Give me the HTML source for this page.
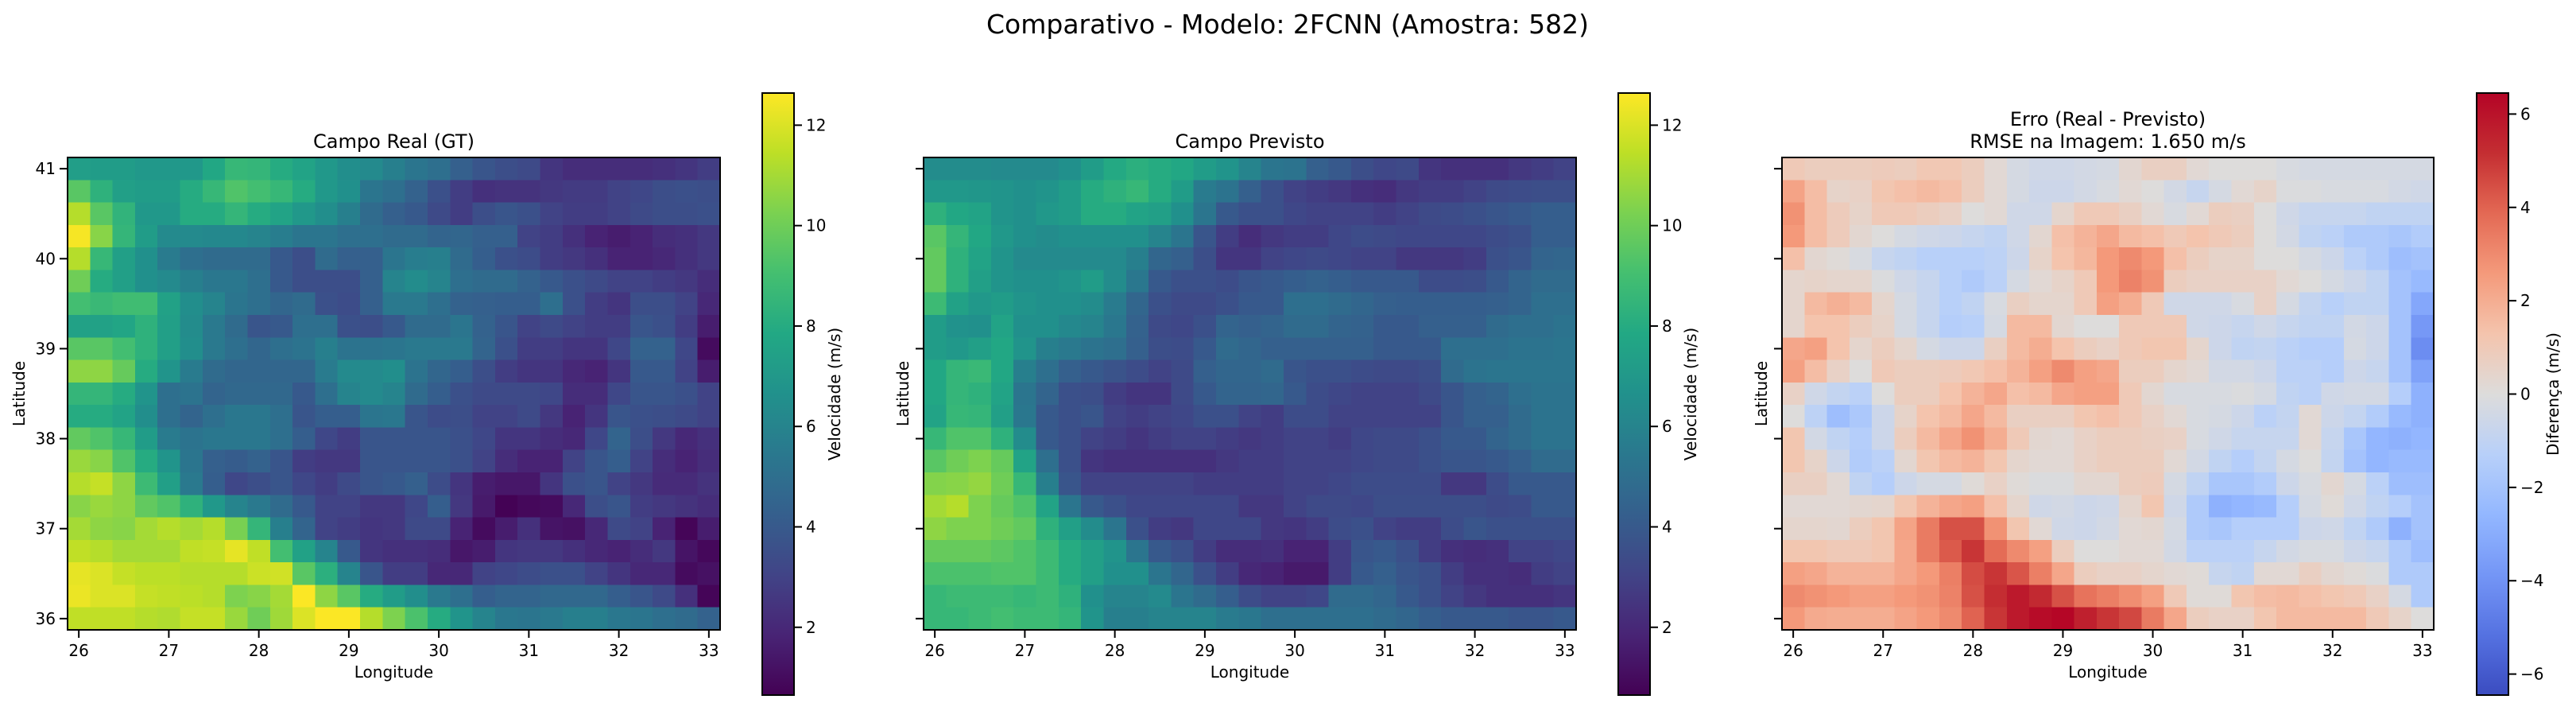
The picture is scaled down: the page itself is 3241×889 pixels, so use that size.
<!DOCTYPE html>
<html><head><meta charset="utf-8">
<style>
html,body{margin:0;padding:0;background:#fff;}
svg{display:block;font-family:"DejaVu Sans","Liberation Sans",sans-serif;}
</style></head>
<body>
<svg id="fig" width="3241" height="889" viewBox="0 0 3241 889" xmlns="http://www.w3.org/2000/svg">
<rect width="3241" height="889" fill="#fff"/>
<text x="1620" y="42" font-size="33" text-anchor="middle" fill="#000">Comparativo - Modelo: 2FCNN (Amostra: 582)</text>
<defs id="defs"></defs>
<g id="plots"></g>
</svg>
<script>
// grid: 29 columns (lon 25.875..33.125), 21 rows top lat 41.125 -> bottom 35.875
const lonTicks = [26,27,28,29,30,31,32,33];
const latTicks = [36,37,38,39,40,41];
const speedTicks = [2,4,6,8,10,12];
const diffTicks = [-6,-4,-2,0,2,4,6];
const speedRange = [0.65, 12.64];
const diffRange = [-6.45, 6.45];

const realRows = [
"7.3 7.2 7.2 7 7 7 7.8 8.6 8.5 8 7.6 7 6.5 6.3 5.8 5.3 5 4.3 3.8 3.5 3.3 2.5 2.2 2.2 2.2 2.2 2.3 2.5 2.8",
"9.5 8.3 7.4 7.2 7.2 8 8.6 9.3 9 8.6 8 7 6.6 5.3 5 4.4 3.6 2.8 2.3 2.4 2.4 2.6 2.7 2.7 3 3.2 3.5 3.6 3.5",
"11.3 9.5 8.4 7 7 8 8 8.5 8 7.6 7 6.5 5.8 4.8 4.3 4 3.3 2.8 3.5 3.8 3.6 3 2.8 2.8 3 3.3 3.5 3.5 3.6",
"12.5 10.5 8.5 7.2 6.3 6.3 6.2 6.2 6 5.7 5.3 5.3 5 5 4.8 4.8 4.5 4.6 4.3 4.3 3 2.8 2.3 1.8 1.6 1.8 2.2 2.3 2.6",
"11.3 8.6 7.4 6.6 5.6 5 4.8 4.8 4.8 4 3.5 4.8 4.3 4.3 5.3 5.7 5.8 4.8 4.2 3.6 3.4 2.8 2.6 2.3 1.8 1.8 2 2.3 2.6",
"10 8 7.4 6.6 6.3 5.8 5.4 5.4 5 4 3.5 3.5 3.5 4.3 6 6.4 6 5 4.8 4.8 4.4 4 3.6 3.3 3 3 2.8 2.6 2.2",
"9 8.7 8.9 8.9 7.5 6.5 6 5.3 5 4.6 4.8 3.6 3.4 4.3 5.5 5.5 5 4.4 4.3 4.2 4.2 5 3.6 2.8 2.5 3.5 3.5 3 2",
"7.5 7.5 7.7 8.3 7.4 6.4 5.5 4.8 3.8 4 5 5 3.6 3.5 4 4.8 4.8 5.3 4.4 3.8 3 3.3 3 2.8 2.8 3.8 3.6 2.8 1.6",
"9.5 9.5 9 8.3 7.4 6.5 5.5 5 4.6 5 5.2 5.8 5.2 5.2 5.3 5.5 5.5 5.5 4.5 3.6 2.8 2.8 2.5 2.5 3.2 4.4 4.4 3.2 1",
"10.6 10.6 9.8 8 6.8 5.6 4.8 4.6 4.6 4.6 4.6 5.6 6.3 6.3 6.5 5.2 4.6 4.2 3.5 2.8 2.5 2.5 2 1.8 2.5 4 4 3 1.6",
"8.5 8.5 8 6.8 5 5.2 4.5 4.7 4.7 4.7 4 5 6 6.3 6 4.8 4.2 3.6 3.3 3.3 3.3 3.2 2.2 2.2 3.2 3.8 3.8 3.6 3",
"8 8 7.6 6.5 5 4.5 5 5.4 5.4 5 3.8 4.2 4.2 5.3 5.4 3.8 3.4 3.5 3 3 3.3 2.6 1.8 2.5 3.8 3.6 3.5 3.3 3",
"9.7 9.3 8.6 7.2 5.6 5.2 5.4 5.4 5.4 5 4.2 3.2 2.8 3.8 3.8 3.8 3.8 3.6 3.2 2.5 2.5 2.2 2 3.2 4.5 3.5 2.6 2 2.3",
"10.8 10.5 9.3 8 6.8 5.3 4.3 4.1 4.4 3.8 2.8 2.6 2.6 3.8 3.8 3.8 3.8 3.6 3 2.2 1.8 1.8 3 3.8 4.2 3 2.2 1.8 2.2",
"11.3 11.6 10.6 8.8 7.4 5.5 4.2 3.2 3.5 3.8 3.2 2.8 3.3 3.8 4 4.3 3.4 2.5 1.6 1.4 1.4 2.5 3.6 3.8 3 2.6 2.1 2.1 2.4",
"10.5 10.8 10.6 9.7 9.3 8.3 7 6 5.5 4.8 4 3 3 2.6 2.6 3.2 4.2 2.6 1.5 0.7 0.9 1 2 3.5 3.8 2.8 2.6 2.4 2.2",
"11 10.6 10.5 11 11.3 11 11.3 10.2 8.5 5.8 4.5 3 2.8 2.5 2.6 3.3 3.3 1.8 1 1.6 2.3 1.3 1.2 2 3.3 3 1.8 0.8 1.6",
"11.5 11.3 11 11 11 11.5 11.6 12.2 11.5 9 7.5 6 4 2.5 2.3 2.3 2.2 1.4 1.6 2.5 2.6 2.6 2.3 2 1.8 2.2 2.6 1.3 0.9",
"12.2 12 11.6 11.4 11.4 11.3 11.3 11.3 11.7 11.8 9.5 8.2 6 3.8 2.8 2.8 2 2 3 3.2 3.4 3.6 3.6 3 2.5 2 2 1 1.2",
"12.3 12 12 11.6 11.5 11.4 11.3 10.3 10.5 11 12.6 10.6 9.5 8 7.2 6.5 5.5 5 4.2 4.5 4.5 4.7 4.7 4.7 4.2 3.8 3.3 2.3 0.8",
"11.5 11.5 11.5 11.3 11.2 11.6 11.6 10.8 10 10.9 12 12.6 12.6 11.3 10.3 9.2 8 6.8 6 5.4 5.3 5.5 5.8 5.8 5.4 5.3 5 4.8 4.4"
];
const predRows = [
"6.4 6.4 6.4 6.3 6.3 6.3 6.6 7.2 7.9 8.2 8 7.8 7.2 6.8 6 5.3 5.2 4.3 4 3.5 3.2 3.3 2.5 2.3 2.3 2.3 2.6 2.8 3",
"7 7 6.9 6.8 6.6 6.8 7.2 8 8.3 8.6 8 7.2 5.6 5.2 4.3 3.6 3 2.8 2.6 2.3 2.2 2.6 2.8 2.8 3 3.3 3.4 3.5 3.5",
"8.3 7.8 7.6 6.8 6.6 7 7.2 8 8 7.6 7.4 6.6 5.3 4 3.6 3.6 3.2 3 3 3 2.8 3 3.3 3.4 3.6 3.8 4 4.2 4.2",
"9.5 8.5 7.8 7 6.6 6.4 6.6 6.6 6.6 6.6 6 5.3 3.8 2.8 2.2 2.6 2.8 2.8 3.2 3.4 3.3 3.2 3.2 3.2 3.2 3.4 3.6 4.2 4.2",
"9.7 8.3 7.6 6.8 6.3 6.3 6.3 6.3 6.3 5.8 4.6 4.3 3.5 2.5 2.5 3 3.2 3.3 3.2 3 3 2.6 2.6 2.6 2.8 3.6 3.8 4.5 4.6",
"9.7 8.3 7.4 6.8 6.6 6.6 6.8 7.2 6.4 5.4 4 3.6 3.6 3.4 3.8 4 4.2 4.4 4.2 4 4 4 3.4 3.4 3.5 4 4.5 4.8 4.8",
"8.8 7.5 7 7.2 6.8 6.6 6.6 6.4 5.6 4.6 3.6 3.3 3.3 3.6 4 4 5 5 4.8 4.6 4.3 4.2 4.2 4.2 4.2 4.3 4.5 5 5",
"7.2 6.7 6.6 7.6 6.6 6.6 6.2 6 5.4 4.4 3.3 3.2 3.6 4.5 4.3 4.5 4.8 4.8 4.5 4.4 4 4 4.3 4.3 4.3 4.8 5 5 5.2",
"7.2 7 7.4 7.8 6.8 5.8 5.5 5.2 5 4.3 3.5 3.4 4 4.8 4.6 4.3 4.3 4.3 4.3 4.3 4 4 4 5 5 5 5.2 5.2 5.3",
"7.8 8.5 8.7 7.8 5.8 5 4.3 4 3.7 3.4 3 3.3 4.3 4.6 4.6 4.8 3.8 3.6 3.6 3.4 3.3 3.3 3.5 4.8 5.2 5.3 5.3 5.3 5.3",
"7.8 8.5 8.3 7.6 5.3 4.5 3.6 3.5 2.8 2.5 2.5 3.3 4 4.5 4.5 4.6 4 3.4 3.2 3 3 3 3.3 3.8 4.3 4.5 5 5.2 5.2",
"7.6 8.6 8.5 7.4 5.4 4 3.6 3.8 3 2.8 3 3.2 3.6 3.6 3 2.8 3.4 3.4 3 3 3 3 3 3.8 4.3 4.3 4.8 5.2 5.2",
"8.6 9.3 9.3 8.3 6.4 4 3.6 3 2.8 2.5 2.8 3 3 2.8 2.6 2.8 3 3 2.8 3.2 3.3 3.3 3.6 4 4 4.5 4.8 5.2 5.2",
"9.5 10 10.3 9.8 7.6 5 3.6 2.5 2.3 2.3 2.3 2.3 2.3 2.6 2.8 2.8 3 3 3 3.2 3.3 3.3 3.6 3.8 3.8 4 4.3 4.8 4.8",
"10.4 10.5 10.7 10 8.6 5.8 3.8 3 3 3 3 3 2.8 2.8 2.8 2.8 3 3 3.2 3.4 3.4 3.4 3.4 2.6 2.6 3.4 4 4 4",
"11 11.3 10.3 9.8 9.3 7.6 5.3 4 3.6 3.2 3.2 3.2 3.2 3.2 2.6 2.6 3 3.3 3.3 3.2 3.5 3.5 3.5 3.5 3.5 3.3 3.4 4 4",
"10.6 10.3 10.3 10 9.7 8.3 7.4 6.4 5.3 3.6 2.8 2.6 3.2 3.2 3.2 2.6 2.5 2.8 3.4 3.6 3 2.8 2.8 3.4 3.8 3.6 3.6 3.6 3.6",
"9.8 9.8 9.8 9.6 9.3 8.8 8 7.4 6.8 5.3 4 3.6 2.8 2.2 2.2 2.3 1.8 1.8 2.8 3.8 4 3.6 2.8 2.3 2.2 2.3 3 3 3.2",
"9.2 9.2 9.2 9.3 9.3 8.8 8 7.4 6.6 6.6 5.3 4.6 3.6 2.8 2 1.8 1.5 1.5 2.8 4 4.3 3.8 3.6 2.8 2.3 2.3 2.2 2.8 3",
"8.6 8.8 8.8 8.8 8.6 8.8 8.3 6.6 6 6 6.3 5.3 4.8 4.2 3.4 3 3 3.2 4.8 4.8 4.6 4 3.6 3 2.6 2.3 2.3 2.3 2.5",
"8.6 8.6 8.8 9 8.8 8.8 8.5 6.8 5.8 5.8 6 6 6 5.6 5.4 5 5 5 5 5 4.8 4.6 4.2 4 4 4 3.8 3.8 4"
];
const errRows = [
"1 .8 .8 .8 .9 .8 1.1 1.1 .8 .2 -.3 -.5 -.5 -.4 -.3 .3 .7 .7 .2 0 0 0 -.2 -.3 -.3 -.3 -.3 -.3 -.3",
"2.3 1.5 .5 .6 1.2 1.4 1.6 1.4 .8 .2 -.3 -.6 -.6 -.4 -.2 .2 0 -.4 -.8 -.3 .2 .5 -.1 -.1 -.2 -.2 -.2 -.4 -.5",
"2.8 1.5 .9 .5 1 1 .8 .6 0 .2 -.5 -.5 .4 1 1 .7 .2 -.2 .2 .8 .7 0 -.5 -.8 -.8 -.8 -1 -1 -1",
"2.6 1.5 .9 .3 0 -.3 -.5 -.6 -.8 -1 -.5 .3 1.4 1.8 2.2 1.6 1.4 1 1.3 1 .8 0 -.4 -1 -1.2 -1.6 -1.6 -1.8 -1.5",
"1.4 .3 .1 -.2 -.8 -1 -1.3 -1.3 -1.3 -1.1 -.6 .5 1.3 1.7 2.6 3 2.6 1.4 .8 .5 .5 0 0 -.3 -.6 -1.2 -1.6 -2.2 -2",
".4 .5 .4 .4 -.1 -.5 -.8 -1.3 -1.6 -1.2 -.3 .2 .5 1 2.6 3.2 2.8 .8 .6 .6 .6 .6 .2 0 -.3 -.6 -1 -2 -2.4",
".4 1.6 1.9 1.6 .4 -.3 -.8 -1.3 -1 -.2 .7 .4 .4 1 2.4 2 1 -.5 -.5 -.5 -.2 .6 -.3 -.9 -1.3 -1 -1 -2 -3.2",
".4 1.3 1.3 .8 .5 -.3 -.8 -1.4 -1.3 -.3 1.6 1.6 .3 0 0 1 1 1 -.5 -.6 -.8 -.5 -.8 -1 -1 -.4 -.6 -2 -3.8",
"2.2 2.4 1.3 .4 .8 .4 -.3 -.6 -.6 .7 1.6 2 1.3 .8 .6 1 1.2 1.2 .4 -.6 -1 -.9 -1.2 -1.4 -1.4 -.3 -.6 -2 -4.2",
"2.4 1.5 .6 0 1 .8 .8 .9 1.1 1.4 1.8 2.4 3 2.4 2.2 .8 .8 .4 .2 -.4 -.4 -.6 -1.2 -1.2 -1.4 -.6 -.8 -2 -3.4",
".6 -.5 -.9 -1.2 0 .8 .8 1.3 1.8 2.2 1.4 1.6 2.2 2.4 2.4 1 .3 -.2 -.2 -.2 -.1 -.3 -1 -1.2 -.5 -.4 -.4 -1.4 -2.8",
"0 -1.1 -2.2 -1.7 -.6 .5 1.3 1.6 2.2 1.6 .7 .7 .7 1.2 1.4 1 .6 .2 -.2 -.3 -.6 -1.2 -.9 .2 -.6 -.9 -1.5 -2.4 -2.8",
"1.2 -.4 -1 -1.4 -.6 .8 1.6 2.2 2.8 2 1 .3 .2 .6 .8 .8 .7 .6 -.2 -.5 -.8 -.8 -.8 .2 -.8 -1.8 -2.6 -2.8 -2.6",
"1.2 .5 -.6 -1.5 -1.2 .3 1.2 1.6 1.8 1.2 .4 .2 .2 .6 .8 .8 .8 .2 -.4 -1 -1.4 -.9 -.3 0 -.9 -2 -2.6 -2.4 -2.4",
".7 .7 .2 -1 -1.4 -.6 -.3 -.3 .1 .6 .1 -.1 -.1 .3 .3 .8 .9 -.3 -1 -1.8 -1.8 -1.5 -.6 -.2 .3 -.3 -1.2 -2.2 -2.2",
".2 .2 .2 .3 .4 1.2 1.8 2.2 2.4 1.4 .4 -.5 -.4 -.6 -.5 .4 1.2 -.5 -1.6 -2.8 -2.6 -2.4 -1.4 -.3 .1 -.5 -1 -1.4 -2",
".4 .4 .3 .8 1.2 2.3 3.4 4.4 4.4 2.8 1.2 .2 -.5 -.6 -.4 .2 .3 -.3 -1.6 -1.8 -1.4 -1.4 -1.4 -.6 -.5 -1 -1.6 -2.8 -2",
"1.2 1.2 1 1 1.2 2.2 3.4 4.2 5 3.8 3 2.4 .8 0 0 .2 .2 -.4 -1.2 -1.2 -1.2 -.8 -.4 -.2 -.2 -.6 -.8 -1.6 -2.2",
"2.4 2.2 1.8 1.8 1.8 2.2 2.6 3.3 4.5 5 4.3 3.3 2.2 .8 .6 .6 .4 .2 .1 -.8 -1 .2 .2 .7 .3 .1 -.1 -1.6 -1.6",
"3 2.8 2.6 2.4 2.4 2.6 2.8 3.2 4.4 5.2 5.8 5.3 4.4 3.6 3.3 2.9 2.4 1 .1 .1 1.2 1.5 1.6 1.4 1.2 1 .6 -.3 -1.6",
"2.6 2.1 2 2 2 2.3 2.6 3 4 5 5.8 6.2 6.4 5.6 5 4.6 3.4 2.2 .8 .6 .6 1.2 1.6 1.6 1.6 1.6 1 .5 0"
];

const viridisStops = [[68,1,84],[72,36,117],[65,68,135],[53,95,141],[42,120,142],[33,145,140],[34,168,132],[68,191,112],[122,209,81],[189,223,38],[253,231,37]];
const coolwarmStops = [[59,76,192],[85,114,225],[116,150,246],[147,183,255],[184,208,249],[221,220,219],[244,196,173],[244,154,123],[227,105,84],[196,46,50],[180,4,38]];

function cmap(stops,t){
  t=Math.max(0,Math.min(1,t));
  const f=t*(stops.length-1), i=Math.min(stops.length-2,Math.floor(f)), u=f-i;
  const a=stops[i], b=stops[i+1];
  return 'rgb('+a.map((v,k)=>Math.round(v+(b[k]-v)*u)).join(',')+')';
}
const parse = rows => rows.map(r=>r.trim().split(/\s+/).map(Number));
const NS='http://www.w3.org/2000/svg';
function el(tag,attrs,parent){const e=document.createElementNS(NS,tag);for(const k in attrs)e.setAttribute(k,attrs[k]);parent.appendChild(e);return e;}
const plots=document.getElementById('plots');
const defs=document.getElementById('defs');

const panels=[
  {left:85,right:906,title:['Campo Real (GT)'],data:parse(realRows),stops:viridisStops,range:speedRange,ticks:speedTicks,cbLabel:'Velocidade (m/s)',name:'real',yLabels:true},
  {left:1162,right:1983,title:['Campo Previsto'],data:parse(predRows),stops:viridisStops,range:speedRange,ticks:speedTicks,cbLabel:'Velocidade (m/s)',name:'predicted',yLabels:false},
  {left:2242,right:3062,title:['Erro (Real - Previsto)','RMSE na Imagem: 1.650 m/s'],data:parse(errRows),stops:coolwarmStops,range:diffRange,ticks:diffTicks,cbLabel:'Diferença (m/s)',name:'error',yLabels:false}
];
const TOP=198,BOT=792,LON0=25.875,LON1=33.125,LAT0=35.875,LAT1=41.125;
const CBT=117,CBB=874;

panels.forEach((p,pi)=>{
  const g=el('g',{},plots);
  
  
  const xs=lon=>p.left+(lon-LON0)/(LON1-LON0)*(p.right-p.left);
  const ys=lat=>BOT-(lat-LAT0)/(LAT1-LAT0)*(BOT-TOP);
  const hm=el('g',{'shape-rendering':'crispEdges'},g);
  
  
  const nr=p.data.length;
  p.data.forEach((row,r)=>{
    const latTop=LAT1-r*0.25, latBot=latTop-0.25;
    row.forEach((v,c)=>{
      const lonL=LON0+c*0.25, lonR=lonL+0.25;
      const x0=xs(lonL),x1=xs(lonR),y0=ys(latTop),y1=ys(latBot);
      const rc=el('rect',{x:x0.toFixed(2),y:y0.toFixed(2),width:(x1-x0+0.6).toFixed(2),height:(y1-y0+0.6).toFixed(2),fill:cmap(p.stops,(v-p.range[0])/(p.range[1]-p.range[0]))},hm);
      
      
    });
  });
  const fr=el('rect',{x:p.left,y:TOP,width:p.right-p.left,height:BOT-TOP,fill:'none',stroke:'#000','stroke-width':2},g);
  
  
  lonTicks.forEach(t=>{
    const x=xs(t);
    const tk=el('line',{x1:x,x2:x,y1:BOT,y2:BOT+10,stroke:'#000','stroke-width':2},g);
    
    
    const tl=el('text',{x:x,y:BOT+33,'font-size':20,'text-anchor':'middle',fill:'#000'},g);
    tl.textContent=t;
    
    
  });
  latTicks.forEach(t=>{
    const y=ys(t);
    const tk=el('line',{x1:p.left-10,x2:p.left,y1:y,y2:y,stroke:'#000','stroke-width':2},g);
    
    
    if(p.yLabels){
      const tl=el('text',{x:p.left-15,y:y+7,'font-size':20,'text-anchor':'end',fill:'#000'},g);
      tl.textContent=t;
      
      
    }
  });
  const cx=(p.left+p.right)/2;
  const xl=el('text',{x:cx,y:852,'font-size':20,'text-anchor':'middle',fill:'#000'},g);
  xl.textContent='Longitude';
  
  
  const ylx=p.yLabels?p.left-54:p.left-19;
  const yl=el('text',{x:ylx,y:(TOP+BOT)/2,'font-size':20,'text-anchor':'middle',fill:'#000',transform:'rotate(-90 '+ylx+' '+(TOP+BOT)/2+')'},g);
  yl.textContent='Latitude';
  
  
  p.title.forEach((s,i)=>{
    const tt=el('text',{x:cx,y:186-(p.title.length-1-i)*28,'font-size':24,'text-anchor':'middle',fill:'#000'},g);
    tt.textContent=s;
    
    
  });
  // colorbar
  const cbl=p.left+874, cbr=cbl+40;
  const gid='grad'+pi;
  const lg=el('linearGradient',{id:gid,x1:0,y1:1,x2:0,y2:0},defs);
  for(let k=0;k<=20;k++){el('stop',{offset:(k/20),'stop-color':cmap(p.stops,k/20)},lg);}
  const cb=el('rect',{x:cbl,y:CBT,width:cbr-cbl,height:CBB-CBT,fill:'url(#'+gid+')',stroke:'#000','stroke-width':2},g);
  
  
  const cs=v=>CBB-(v-p.range[0])/(p.range[1]-p.range[0])*(CBB-CBT);
  p.ticks.forEach(t=>{
    const y=cs(t);
    const tk=el('line',{x1:cbr,x2:cbr+10,y1:y,y2:y,stroke:'#000','stroke-width':2},g);
    
    
    const tl=el('text',{x:cbr+15,y:y+7,'font-size':20,fill:'#000'},g);
    tl.textContent=t<0?'\u2212'+Math.abs(t):String(t);
    
    
  });
  const lx=cbr+p.ticks.length?cbr+(pi==2?63:58):0;
  const my=(CBT+CBB)/2;
  const cl=el('text',{x:lx,y:my,'font-size':20,'text-anchor':'middle',fill:'#000',transform:'rotate(-90 '+lx+' '+my+')'},g);
  cl.textContent=p.cbLabel;
  
  
});
</script>
</body></html>
